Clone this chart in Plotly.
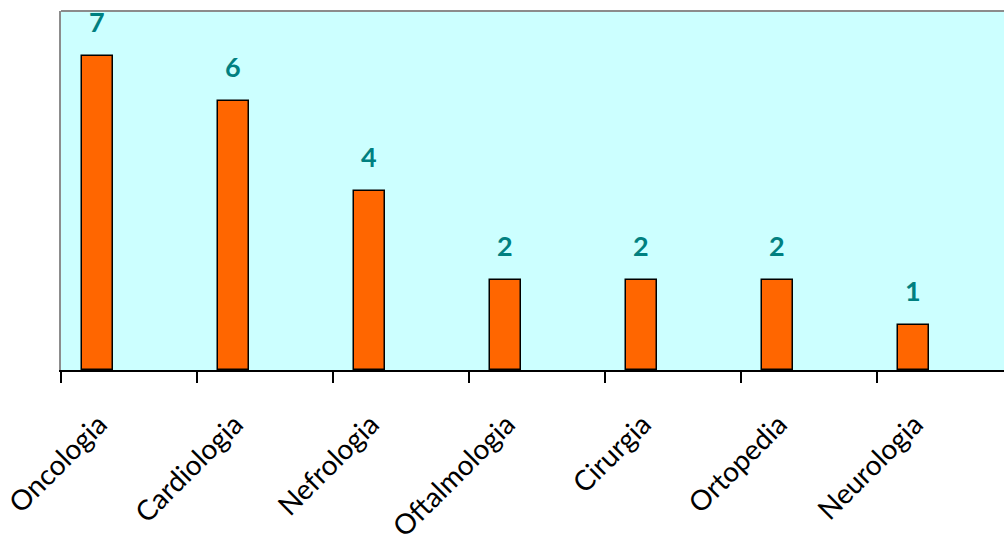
import plotly.graph_objects as go

categories = ["Oncologia", "Cardiologia", "Nefrologia", "Oftalmologia", "Cirurgia", "Ortopedia", "Neurologia"]
values = [7, 6, 4, 2, 2, 2, 1]

BAR_OFFSET = -0.346
BAR_WIDTH = 0.228

fig = go.Figure()
fig.add_trace(go.Bar(
    x=categories, y=values,
    offset=BAR_OFFSET, width=BAR_WIDTH,
    marker=dict(color="#FF6600", line=dict(color="black", width=1.5)),
    hoverinfo="x+y",
))

for i, (c, v) in enumerate(zip(categories, values)):
    fig.add_annotation(
        x=i + BAR_OFFSET + BAR_WIDTH / 2, y=v, xref="x", yref="y",
        text=f"<b>{v}</b>", showarrow=False, yanchor="bottom", yshift=16,
        font=dict(family="Lato", size=27, color="#008080"),
    )

# top border of the plot area (grey frame)
fig.add_shape(type="line", xref="paper", yref="paper", x0=0, x1=1, y0=1, y1=1,
              line=dict(color="#8C8C8C", width=2))

fig.update_layout(
    width=1004, height=535,
    margin=dict(l=61, r=0, t=11, b=165),
    paper_bgcolor="white", plot_bgcolor="#CCFFFF",
    showlegend=False,
    bargap=0,
    xaxis=dict(
        type="category", range=[-0.5, -0.5 + 943 / 136], automargin=False,
        tickson="boundaries", ticks="outside", ticklen=11, tickwidth=2, tickcolor="black",
        showline=True, linecolor="black", linewidth=2,
        showgrid=False, zeroline=False,
        tickangle=-45, tickfont=dict(family="Lato", size=28, color="black"),
        ticklabelstandoff=25, ticklabelshift=-30,
    ),
    yaxis=dict(
        range=[0, 8], showticklabels=False, ticks="", showgrid=False, zeroline=False,
        showline=True, linecolor="#8C8C8C", linewidth=2, automargin=False,
    ),
)

fig.write_html("out.html")
